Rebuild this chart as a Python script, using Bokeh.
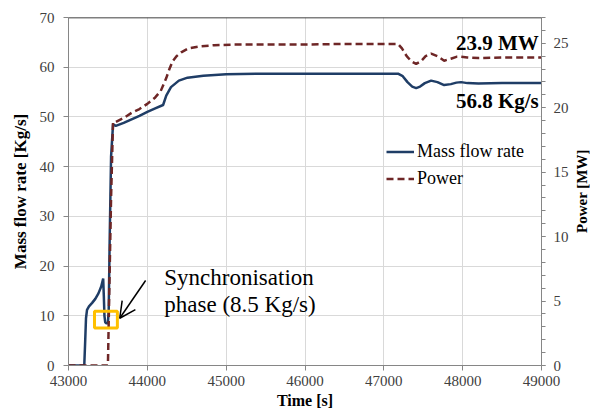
import math
from bokeh.plotting import figure
from bokeh.layouts import row
from bokeh.models import (Range1d, LinearAxis, FixedTicker, Span, Label, Arrow,
                          OpenHead, Legend, LegendItem, Div)
from bokeh.embed import file_html
from bokeh.resources import INLINE

# ---------------- data ----------------
time_flow = [43000, 43200, 43212, 43222, 43235, 43260, 43300, 43340, 43380, 43415,
             43440, 43448, 43456, 43466, 43480, 43500, 43510, 43522, 43540, 43565,
             43600, 43700, 43800, 43900, 44000, 44100, 44200, 44240, 44300, 44400,
             44510, 44710, 45000, 45500, 46000, 46500, 47000, 47180, 47240, 47300,
             47360, 47410, 47460, 47520, 47600, 47680, 47765, 47850, 47920, 47980,
             48060, 48200, 48500, 49000]
mass_flow = [0, 0, 5.0, 9.5, 11.2, 11.9, 12.6, 13.4, 14.5, 15.9,
             17.5, 14.0, 10.0, 8.7, 8.5, 8.5, 11, 25, 42, 48.5,
             48.2, 48.8, 49.5, 50.2, 51.0, 51.7, 52.4, 54.3, 56.0, 57.3,
             57.9, 58.3, 58.6, 58.7, 58.7, 58.7, 58.7, 58.7, 58.2, 57.0,
             56.1, 55.8, 56.1, 56.8, 57.3, 57.0, 56.4, 56.6, 56.9, 57.0,
             56.8, 56.7, 56.8, 56.8]

time_power = [43000, 43500, 43515, 43540, 43565, 43600, 43700, 43800, 43900, 44000,
              44100, 44170, 44240, 44280, 44320, 44370, 44430, 44520, 44650, 44850,
              45100, 45600, 46000, 46500, 47000, 47180, 47230, 47290, 47350, 47410,
              47470, 47530, 47600, 47680, 47765, 47850, 47920, 47980, 48060, 48200,
              48500, 49000]
power = [0, 0, 5, 13, 18.9, 18.9, 19.2, 19.6, 19.9, 20.3,
         20.8, 21.3, 22.3, 23.0, 23.6, 24.0, 24.3, 24.6, 24.75, 24.85,
         24.9, 24.9, 24.9, 24.95, 24.95, 24.95, 24.6, 24.0, 23.6, 23.4,
         23.6, 24.0, 24.2, 24.0, 23.65, 23.8, 23.95, 23.95, 23.9, 23.85,
         23.9, 23.9]

x_ticks = [43000, 44000, 45000, 46000, 47000, 48000, 49000]
left_ticks = [0, 10, 20, 30, 40, 50, 60, 70]
right_ticks = [0, 5, 10, 15, 20, 25]
right_minor = list(range(0, 28))

series_names = ["Mass flow rate", "Power"]
final_power_text = "23.9 MW"
final_flow_text = "56.8 Kg/s"
sync_lines = ["Synchronisation", "phase (8.5 Kg/s)"]
right_axis_title = "Power [MW]"

FONT = "Liberation Serif"
FLOW_COLOR = "#1F3D66"
POWER_COLOR = "#6E2626"

# ---------------- figure ----------------
p = figure(frame_width=473, frame_height=348, output_backend="svg",
           toolbar_location=None,
           x_range=Range1d(43000, 49000), y_range=Range1d(0, 70),
           min_border_left=68, min_border_right=34, min_border_top=17,
           min_border_bottom=48)
p.extra_y_ranges = {"power": Range1d(0, 27)}
p.outline_line_color = None
p.background_fill_color = "white"
p.border_fill_color = "white"

# grids
p.xgrid.ticker = FixedTicker(ticks=x_ticks)
p.ygrid.ticker = FixedTicker(ticks=left_ticks)
for g in (p.xgrid, p.ygrid):
    g.grid_line_color = "#D9D9D9"
    g.grid_line_width = 1

def style_axis(ax):
    ax.axis_line_color = "#868686"
    ax.axis_line_width = 1
    ax.major_tick_line_color = "#868686"
    ax.minor_tick_line_color = "#868686"
    ax.major_tick_in = 0
    ax.major_tick_out = 5
    ax.minor_tick_in = 0
    ax.minor_tick_out = 4
    ax.major_label_text_font = FONT
    ax.major_label_text_font_size = "15px"
    ax.major_label_text_color = "#404040"
    ax.axis_label_text_font = FONT
    ax.axis_label_text_font_size = "16px"
    ax.axis_label_text_font_style = "bold"
    ax.axis_label_text_color = "black"

xa = p.xaxis[0]
style_axis(xa)
xa.ticker = FixedTicker(ticks=x_ticks)
xa.minor_tick_line_color = None
xa.axis_label = "Time [s]"
xa.major_label_standoff = 5
xa.axis_label_standoff = 3

ya = p.yaxis[0]
style_axis(ya)
ya.ticker = FixedTicker(ticks=left_ticks)
ya.minor_tick_line_color = None
ya.axis_label = "Mass flow rate [Kg/s]"
ya.axis_label_text_font_size = "17px"
ya.major_label_standoff = 9
ya.axis_label_standoff = 7

ra = LinearAxis(y_range_name="power",
                ticker=FixedTicker(ticks=right_ticks, minor_ticks=right_minor))
style_axis(ra)
ra.major_tick_out = 4
ra.major_label_standoff = 8
p.add_layout(ra, "right")

# top border
p.add_layout(Span(location=70, dimension="width", line_color="black", line_width=1.5))

# ---------------- lines ----------------
r_flow = p.line(time_flow, mass_flow, line_color=FLOW_COLOR, line_width=2.5)
r_power = p.line(time_power, power, y_range_name="power", line_color=POWER_COLOR,
                 line_width=2.5, line_dash="7 4")

# synchronisation box
p.quad(left=[43330], right=[43620], bottom=[7.55], top=[10.9],
       fill_alpha=0, line_color="#FFC000", line_width=3)

p.add_layout(Arrow(end=OpenHead(size=16, line_width=1.5, line_color="black"),
                   x_start=43978, y_start=17.1, x_end=43650, y_end=9.5,
                   line_width=1.5, line_color="black"))

# ---------------- texts ----------------
p.add_layout(Label(x=44215, y=17.7, text=sync_lines[0], text_font=FONT,
                   text_font_size="23px", text_color="black",
                   text_baseline="alphabetic", text_align="left"))
p.add_layout(Label(x=44215, y=12.3, text=sync_lines[1], text_font=FONT,
                   text_font_size="23px", text_color="black",
                   text_baseline="alphabetic", text_align="left"))

p.add_layout(Label(x=48965, y=64.8, text=final_power_text, text_font=FONT,
                   text_font_size="21px", text_font_style="bold", text_color="black",
                   text_baseline="middle", text_align="right"))
p.add_layout(Label(x=48965, y=53.3, text=final_flow_text, text_font=FONT,
                   text_font_size="21px", text_font_style="bold", text_color="black",
                   text_baseline="middle", text_align="right"))

# ---------------- legend ----------------
legend = Legend(items=[LegendItem(label=series_names[0], renderers=[r_flow]),
                       LegendItem(label=series_names[1], renderers=[r_power])],
                location=(318, 173), orientation="vertical")
legend.background_fill_alpha = 0
legend.border_line_color = None
legend.label_text_font = FONT
legend.label_text_font_size = "18px"
legend.label_text_color = "black"
legend.glyph_width = 28
legend.glyph_height = 27
legend.label_height = 27
legend.label_standoff = 3
legend.spacing = 0
legend.padding = 0
legend.margin = 0
p.add_layout(legend, "center")

# right axis title (reads bottom-to-top, like the left one)
right_div = Div(
    text=('<div style="writing-mode: vertical-rl; transform: rotate(180deg); '
          'font: bold 15px \'Liberation Serif\'; color: black; height: 348px; '
          'margin-top: 17px; text-align: center; white-space: nowrap; '
          'line-height: 15px;">' + right_axis_title + '</div>'),
    width=15, height=413, margin=(0, 0, 0, 0))

layout = row(p, right_div, spacing=0)

open("out.html", "w").write(file_html(layout, INLINE))
